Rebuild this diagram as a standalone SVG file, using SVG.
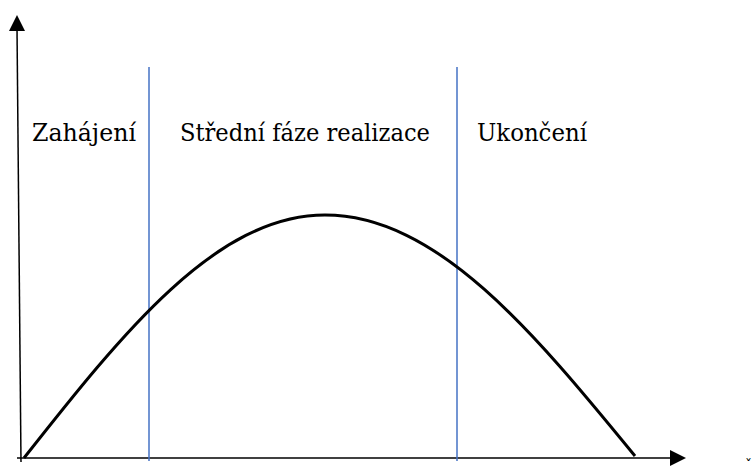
<svg xmlns="http://www.w3.org/2000/svg" width="755" height="467" viewBox="0 0 755 467">
<style>
.lbl{font-family:"DejaVu Serif","Liberation Serif",serif;font-size:25px;fill:#000}
.axis{stroke:#000;stroke-width:1.5;fill:none}
.head{fill:#000;stroke:none}
.phase{stroke:#4472C4;stroke-width:1.5;fill:none}
.curve{stroke:#000;stroke-width:3;fill:none}
</style>
<rect width="755" height="467" fill="#fff"/>
<g id="connectors">
<line class="axis" x1="21" y1="462" x2="17" y2="28"/>
<polygon class="head" points="17,15 25,31 9,31"/>
<line class="axis" x1="17" y1="458" x2="672" y2="458"/>
<polygon class="head" points="686,458 670,450 670,466"/>
<line class="phase" x1="149" y1="67" x2="149" y2="461"/>
<line class="phase" x1="457" y1="67" x2="457" y2="461"/>
</g>
<g id="curve">
<path class="curve" d="M24,458 C122.2,333.5 216,215 325,215 C437.2,215 533.9,332.5 635,456"/>
</g>
<g id="label-zahajeni"><text class="lbl" x="32" y="141" textLength="104" lengthAdjust="spacingAndGlyphs">Zahájení</text></g>
<g id="label-stredni"><text class="lbl" x="180" y="141" textLength="250" lengthAdjust="spacingAndGlyphs">Střední fáze realizace</text></g>
<g id="label-ukonceni"><text class="lbl" x="477" y="141" textLength="110" lengthAdjust="spacingAndGlyphs">Ukončení</text></g>
<text x="745" y="470" font-family="DejaVu Serif, serif" font-size="14">ˇ</text>
</svg>
